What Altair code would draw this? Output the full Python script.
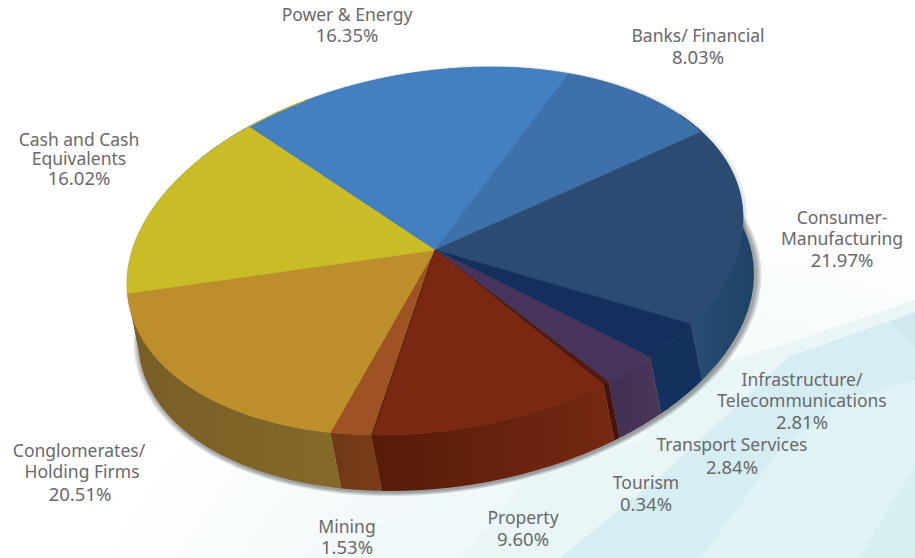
import altair as alt
import numpy as np
import pandas as pd

sectors = ["Power & Energy", "Banks/ Financial", "Consumer-Manufacturing",
           "Infrastructure/Telecommunications", "Transport Services", "Tourism",
           "Property", "Mining", "Conglomerates/Holding Firms", "Cash and Cash Equivalents"]
shares = [16.35, 8.03, 21.97, 2.81, 2.84, 0.34, 9.60, 1.53, 20.51, 16.02]
top_colors = ["#4480c0", "#3e70aa", "#2b4b72", "#142f5e", "#46345a",
              "#4f1a12", "#7a2812", "#9f5223", "#bd8f2c", "#c9bc27"]
wall_colors = [("#3a6a9e", "#3a6a9e"), ("#345e90", "#345e90"), ("#2b5078", "#1d4263"),
               ("#14305c", "#14305c"), ("#3f3054", "#4a3658"), ("#45140e", "#45140e"),
               ("#561c08", "#762812"), ("#6e3814", "#7a3e18"), ("#785d26", "#856a2a"),
               ("#7a6226", "#7a6226")]

label_lines = [
    ("Power & Energy", 347, 16, 17.5), ("16.35%", 347, 36, 18.5),
    ("Banks/ Financial", 698, 37, 17.5), ("8.03%", 698, 58, 18.5),
    ("Consumer-", 842, 219, 17.5), ("Manufacturing", 842, 240, 17.5), ("21.97%", 842, 261, 18.5),
    ("Infrastructure/", 802, 381, 17.5), ("Telecommunications", 802, 402, 17.5), ("2.81%", 802, 423, 18.5),
    ("Transport  Services", 732, 446, 17.5), ("2.84%", 732, 468, 18.5),
    ("Tourism", 646, 484, 17.5), ("0.34%", 646, 505, 18.5),
    ("Property", 523, 519, 17.5), ("9.60%", 523, 540, 18.5),
    ("Mining", 347, 528, 17.5), ("1.53%", 347, 548, 18.5),
    ("Conglomerates/", 79, 452, 17.5), ("Holding Firms", 82, 473, 17.5), ("20.51%", 80, 495, 18.5),
    ("Cash and Cash", 79, 141, 17.5), ("Equivalents", 79, 160, 17.5), ("16.02%", 79, 179, 18.5),
]

# A pale glow rising from the lower edge, fading to white on every side.
glow = alt.Gradient(gradient="radial", x1=0.75, y1=1, r1=0, x2=0.75, y2=1, r2=0.72,
                    stops=[alt.GradientStop(offset=0, color="#e6f3f6"),
                           alt.GradientStop(offset=0.6, color="#f0f8fa"),
                           alt.GradientStop(offset=1, color="#ffffff")])

# Soft faceted backdrop panels behind the lower part of the chart.
backdrop = [
    (glow, [(0, 558), (0, 200), (915, 200), (915, 558)]),
    ("#e9f5f7", [(461, 558), (525, 480), (642, 440), (700, 370), (782, 345), (915, 300), (915, 558)]),
    ("#d6edf1", [(560, 558), (671, 467), (788, 357), (915, 312), (915, 558)]),
    ("#e0f2f3", [(700, 558), (780, 450), (846, 400), (915, 380), (915, 558)]),
    ("#d8eff1", [(860, 558), (900, 490), (915, 470), (915, 558)]),
    ("#cfe9ed", [(890, 322), (915, 312), (915, 345)]),
]

# Disc geometry: sheared ellipse, hub, and the drop of the lower rim.
CX, CY, RX, SHEAR, RY = 435.0, 251.0, 308.0, 33.0, 181.0
HUB = (435.0, 250.0)
DROP = (11.0, 56.0)
START = 128.3

# Perspective foreshortening of the disc, expressed as a low-order periodic
# correction of the sweep angle.
warp_t = np.array([0, 58.9, 87.8, 166.9, 177, 187.2, 188.4, 223, 228.5, 302.3])
warp_d = np.array([1.2, 5.3, 10.5, -4.8, -2.9, -3.7, -2.8, 7.1, 9.7, 3.0])


def basis(t):
    r = np.radians(t)
    cols = [np.ones_like(r)]
    for k in (1, 2, 3, 4):
        cols += [np.sin(k * r), np.cos(k * r)]
    return np.column_stack(cols)


coef = np.linalg.lstsq(basis(warp_t), warp_d, rcond=1e-3)[0]


def sweep(t):
    t = np.asarray(t, dtype=float)
    return START - (t + basis(np.atleast_1d(t)) @ coef)


def rim(u, dx=0.0, dy=0.0, grow=0.0):
    r = np.radians(u)
    k = 1 + grow / RX
    return (CX + dx + k * RX * np.cos(r),
            CY + dy - k * (SHEAR * np.cos(r) + RY * np.sin(r)))


def frame(xs, ys, name):
    return pd.DataFrame({"x": xs, "y": ys, "i": np.arange(len(xs)), "name": name})


X = alt.X("x:Q", scale=alt.Scale(domain=[0, 915]), axis=None)
Y = alt.Y("y:Q", scale=alt.Scale(domain=[558, 0]), axis=None)


def polygon(df, fill, stroke=None, opacity=1.0):
    kw = {"fill": fill, "opacity": opacity, "clip": True}
    kw["stroke"] = stroke if stroke else "transparent"
    kw["strokeWidth"] = 0.8 if stroke else 0
    return alt.Chart(df).mark_line(**kw).encode(x=X, y=Y, order=alt.Order("i:Q"))


layers = []
for n, (color, pts) in enumerate(backdrop):
    layers.append(polygon(frame([p[0] for p in pts], [p[1] for p in pts], f"b{n}"), color))

# Drop shadow under the lower rim, strongest towards the lower right.
ring = np.linspace(0, 360, 181)
for grow in (6, 4.5, 3, 1.5):
    xs, ys = rim(ring, DROP[0] + 1.5, DROP[1] + 1.5, grow)
    layers.append(polygon(frame(xs, ys, "shadow"), "#000000", opacity=0.1))
for grow in (3, 1.5):
    xs, ys = rim(ring, 1.5, 0, grow)
    layers.append(polygon(frame(xs, ys, "halo"), "#000000", opacity=0.05))

edges = np.concatenate([[0], np.cumsum(shares) * 3.6])

# Side walls first, the top face covers whatever faces away.
for n, s in enumerate(sectors):
    u = sweep(np.linspace(edges[n], edges[n + 1], 40))
    tx, ty = rim(u)
    bx, by = rim(u[::-1], *DROP)
    grad = alt.Gradient(gradient="linear", x1=0, x2=1, y1=0, y2=0,
                        stops=[alt.GradientStop(offset=0, color=wall_colors[n][0]),
                               alt.GradientStop(offset=1, color=wall_colors[n][1])])
    layers.append(polygon(frame(np.r_[tx, bx], np.r_[ty, by], s), grad))

# Top face wedges.
for n, s in enumerate(sectors):
    u = sweep(np.linspace(edges[n], edges[n + 1], 60))
    rx, ry = rim(u)
    layers.append(polygon(frame(np.r_[HUB[0], rx], np.r_[HUB[1], ry], s),
                          top_colors[n], stroke=top_colors[n]))

# Dark seam between the Property and Mining slices.
sx, sy = rim(sweep(edges[7])[0])
seam = frame([HUB[0], sx, sx + DROP[0]], [HUB[1], sy, sy + DROP[1]], "seam")
layers.append(alt.Chart(seam).mark_line(stroke="#4a1608", strokeWidth=1).encode(
    x=X, y=Y, order=alt.Order("i:Q")))

labels = pd.DataFrame(label_lines, columns=["text", "x", "y", "size"])
layers.append(alt.Chart(labels).mark_text(
    font="Noto Sans", color="#69696c", align="center", baseline="middle"
).encode(x=X, y=Y, text="text:N", size=alt.Size("size:Q", scale=None, legend=None)))

chart = alt.layer(*layers).properties(width=915, height=558, padding=0,
                                      background="#ffffff",
                                      autosize=alt.AutoSizeParams(type="none")
                                      ).configure_view(stroke=None)
chart.save("out.html", embed_options={"renderer": "svg", "actions": False})
